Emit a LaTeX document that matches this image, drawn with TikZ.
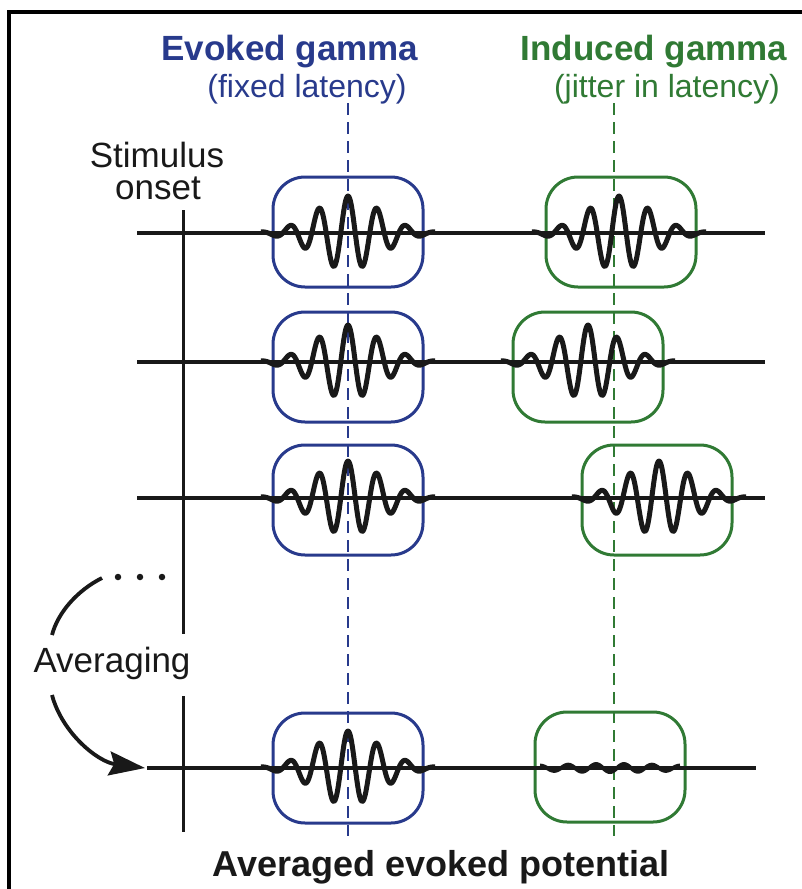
\documentclass[tikz,border=0pt]{standalone}
\usepackage{fontspec}
\setmainfont{Liberation Sans}
\usetikzlibrary{arrows.meta}
\definecolor{eblue}{RGB}{40,58,140}
\definecolor{igreen}{RGB}{48,122,52}
\definecolor{ink}{RGB}{25,25,25}
\begin{document}
\begin{tikzpicture}[x=1pt,y=-1pt,
  frame/.style={line width=3.2pt,black},
  trace/.style={line width=3.2pt,ink},
  wave/.style={line width=5pt,ink,line join=round},
  onsetline/.style={line width=3pt,ink},
  ebox/.style={draw=eblue,line width=3pt,rounded corners=32pt,minimum width=150pt,minimum height=110pt,inner sep=0pt},
  ibox/.style={draw=igreen,line width=3pt,rounded corners=32pt,minimum width=150pt,minimum height=110pt,inner sep=0pt},
  edash/.style={eblue,line width=2.4pt,dash pattern=on 12pt off 7pt},
  idash/.style={igreen,line width=2.4pt,dash pattern=on 12pt off 7pt},
  title/.style={font=\fontsize{35}{40}\selectfont\bfseries,anchor=base,inner sep=0pt},
  subt/.style={font=\fontsize{32}{36}\selectfont,anchor=base,inner sep=0pt},
  lbl/.style={font=\fontsize{35}{38}\selectfont,anchor=base,inner sep=0pt,text=ink},
  dot/.style={circle,fill=ink,inner sep=0pt,minimum size=6.5pt},
  arcline/.style={line width=3.8pt,ink}
]
\useasboundingbox (0,0) rectangle (802,889);
\fill[white] (0,0) rectangle (802,889);

% frame
\coordinate (fTL) at (9,12);
\coordinate (fTR) at (802,12);
\coordinate (fBL) at (9,889);
\draw[frame] (fBL) -- (fTL) -- (fTR);

% titles
\node[title,text=eblue] (tEv) at (290,60) {Evoked gamma};
\node[subt,text=eblue] (tEvS) at (307,97) {(fixed latency)};
\node[title,text=igreen] (tIn) at (654,60) {Induced gamma};
\node[subt,text=igreen] (tInS) at (667,97) {(jitter in latency)};

% stimulus onset label
\node[lbl] (tSt1) at (157,167) {Stimulus};
\node[lbl] (tSt2) at (158,199) {onset};

% dashed latency lines
\coordinate (eTop) at (348,103);
\coordinate (eBot) at (348,836);
\coordinate (iTop) at (614,103);
\coordinate (iBot) at (614,836);
\draw[edash] (eTop) -- (eBot);
\draw[idash] (iTop) -- (iBot);

% stimulus onset line
\coordinate (sA) at (183,210);
\coordinate (sB) at (183,634);
\coordinate (sC) at (183,696);
\coordinate (sD) at (183,832);
\draw[onsetline] (sA) -- (sB);
\draw[onsetline] (sC) -- (sD);

% boxes
\node[ebox] (e1) at (348,232) {};
\node[ebox] (e2) at (348,367) {};
\node[ebox] (e3) at (348,500) {};
\node[ebox] (e4) at (348,768) {};
\node[ibox] (i1) at (621,232) {};
\node[ibox] (i2) at (588,367) {};
\node[ibox] (i3) at (657,500) {};
\node[ibox] (i4) at (610,767) {};

% traces
\coordinate (r1a) at (137,233); \coordinate (r1b) at (765,233);
\coordinate (r2a) at (137,362); \coordinate (r2b) at (765,362);
\coordinate (r3a) at (137,498); \coordinate (r3b) at (765,498);
\coordinate (r4a) at (147,768); \coordinate (r4b) at (756,768);
\draw[trace] (r1a) -- (r1b);
\draw[trace] (r2a) -- (r2b);
\draw[trace] (r3a) -- (r3b);
\draw[trace] (r4a) -- (r4b);

% gamma bursts
\draw[wave] plot[domain=-87:87,samples=175,smooth] ({348+\x},{233-37*exp(-(\x*\x)/2100)*cos(12.41379*\x)});
\draw[wave] plot[domain=-87:87,samples=175,smooth] ({348+\x},{362-37*exp(-(\x*\x)/2100)*cos(12.41379*\x)});
\draw[wave] plot[domain=-87:87,samples=175,smooth] ({348+\x},{498-37*exp(-(\x*\x)/2100)*cos(12.41379*\x)});
\draw[wave] plot[domain=-87:87,samples=175,smooth] ({348+\x},{768-37*exp(-(\x*\x)/2100)*cos(12.41379*\x)});
\draw[wave] plot[domain=-87:87,samples=175,smooth] ({619+\x},{233-37*exp(-(\x*\x)/2100)*cos(12.41379*\x)});
\draw[wave] plot[domain=-87:87,samples=175,smooth] ({588+\x},{362-37*exp(-(\x*\x)/2100)*cos(12.41379*\x)});
\draw[wave] plot[domain=-87:87,samples=175,smooth] ({659+\x},{498-37*exp(-(\x*\x)/2100)*cos(12.41379*\x)});
\draw[line width=4pt,ink] plot[domain=-70:70,samples=141,smooth] ({610+\x},{768+4*exp(-(\x*\x)/9000)*cos(12.857*\x)});

% dots
\node[dot] (d1) at (118,577) {};
\node[dot] (d2) at (140,577) {};
\node[dot] (d3) at (162,577) {};

% averaging
\node[lbl] (tAv) at (112,672) {Averaging};
\coordinate (aA) at (102,578);
\coordinate (aB) at (52,635);
\coordinate (aC) at (52,695);
\coordinate (aTip) at (145,768);
\draw[arcline] (aA) .. controls (78,590) and (58,612) .. (aB);
\draw[arcline,-{Stealth[length=36pt,width=24pt,inset=5pt]}] (aC) .. controls (62,733) and (98,762) .. (aTip);

% bottom label
\node[title,text=ink,font=\fontsize{36}{40}\selectfont\bfseries] (tAep) at (441,876) {Averaged evoked potential};
\end{tikzpicture}
\end{document}
